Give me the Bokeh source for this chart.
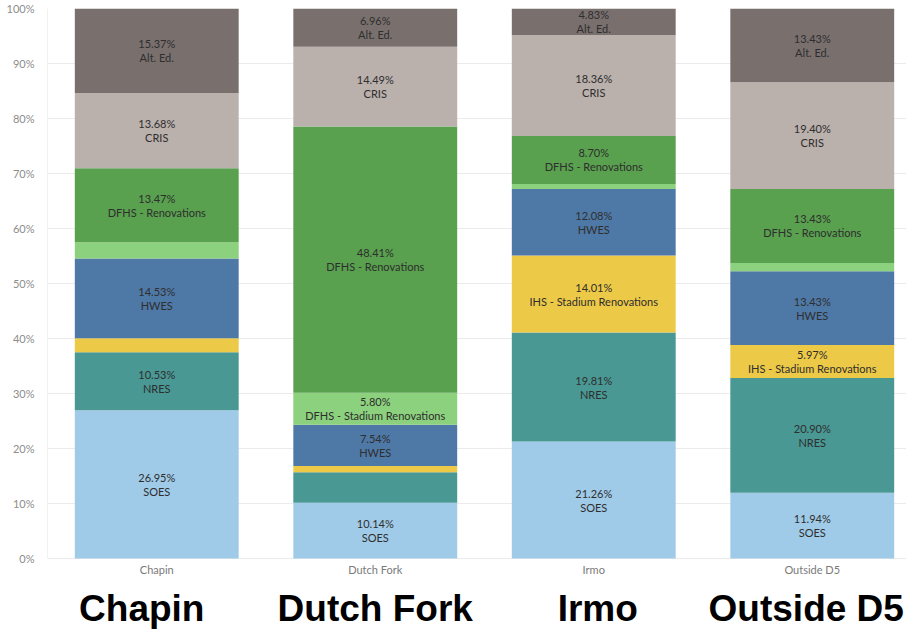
from bokeh.plotting import figure
from bokeh.models import ColumnDataSource, Range1d, FixedTicker, PrintfTickFormatter
from bokeh.core.properties import value
from bokeh.embed import file_html
from bokeh.resources import INLINE

# ---------------- data ----------------
categories = ["Chapin", "Dutch Fork", "Irmo", "Outside D5"]
series = ["SOES", "NRES", "IHS - Stadium Renovations", "HWES",
          "DFHS - Stadium Renovations", "DFHS - Renovations", "CRIS", "Alt. Ed."]
soes = [26.95, 10.14, 21.26, 11.94]
nres = [10.53, 5.53, 19.81, 20.90]
ihs_stadium = [2.55, 1.13, 14.01, 5.97]
hwes = [14.53, 7.54, 12.08, 13.43]
dfhs_stadium = [2.92, 5.80, 0.95, 1.50]
dfhs_renovations = [13.47, 48.41, 8.70, 13.43]
cris = [13.68, 14.49, 18.36, 19.40]
alt_ed = [15.37, 6.96, 4.83, 13.43]
y_ticks = [0, 10, 20, 30, 40, 50, 60, 70, 80, 90, 100]
# segments whose labels are not shown in the original
hidden_labels = [("Chapin", "IHS - Stadium Renovations"),
                 ("Chapin", "DFHS - Stadium Renovations"),
                 ("Dutch Fork", "NRES"),
                 ("Dutch Fork", "IHS - Stadium Renovations"),
                 ("Irmo", "DFHS - Stadium Renovations"),
                 ("Outside D5", "DFHS - Stadium Renovations")]

colors = ["#a0cbe8", "#499894", "#edc948", "#4e79a7",
          "#8cd17d", "#59a14f", "#bab0ac", "#79706e"]

values = [soes, nres, ihs_stadium, hwes, dfhs_stadium, dfhs_renovations, cris, alt_ed]
xs = list(range(len(categories)))

data = {"x": xs, "cat": categories}
for name, vals in zip(series, values):
    data[name] = vals
source = ColumnDataSource(data)

# ---------------- figure ----------------
W, H = 906, 630
LEFT = 47
TOP = 8
px_per_unit_x = 218.5
px_per_pct = 5.5
p = figure(width=W, height=H, output_backend="svg", toolbar_location=None,
           x_range=Range1d(-0.5, -0.5 + (W - LEFT) / px_per_unit_x),
           y_range=Range1d(100 - (H - TOP) / px_per_pct, 100),
           min_border_left=LEFT, min_border_right=0, min_border_top=TOP, min_border_bottom=0)
p.outline_line_color = None
p.background_fill_color = "white"
p.border_fill_color = "white"

p.vbar_stack(series, x="x", width=0.75, source=source, color=colors, line_color=None)

# grid
p.xgrid.visible = False
p.ygrid.ticker = FixedTicker(ticks=y_ticks)
p.ygrid.grid_line_color = "#ebebeb"
p.ygrid.grid_line_width = 1
p.ygrid.level = "underlay"

# y axis
p.xaxis.visible = False
yax = p.yaxis[0]
yax.ticker = FixedTicker(ticks=y_ticks)
yax.formatter = PrintfTickFormatter(format="%d%%")
yax.axis_line_color = None
yax.major_tick_line_color = None
yax.minor_tick_line_color = None
yax.major_label_text_font = "Lato"
yax.major_label_text_font_size = "11px"
yax.major_label_text_color = "#8c8c8c"
yax.major_label_standoff = 7

# faint left axis line from 0 to 100
p.segment(x0=[-0.5], y0=[y_ticks[0]], x1=[-0.5], y1=[y_ticks[-1]],
          line_color="#e3e3e3", line_width=1)

# segment labels
lx, ly, l1, l2 = [], [], [], []
for i, cat in enumerate(categories):
    base = 0.0
    for name, vals in zip(series, values):
        v = vals[i]
        if (cat, name) not in hidden_labels:
            lx.append(xs[i])
            ly.append(base + v / 2)
            l1.append(f"{v:.2f}%")
            l2.append(name)
        base += v
lsrc = ColumnDataSource(dict(x=lx, y=ly, t1=l1, t2=l2))
p.text(x="x", y="y", text="t1", source=lsrc, text_align="center", text_baseline="middle",
       text_font=value("Lato"), text_font_size="11px", text_color="#2e2e2e", y_offset=-7)
p.text(x="x", y="y", text="t2", source=lsrc, text_align="center", text_baseline="middle",
       text_font=value("Lato"), text_font_size="11px", text_color="#2e2e2e", y_offset=7)

# small category labels (axis-like)
csrc = ColumnDataSource(dict(x=xs, y=[-2.0] * len(xs), t=categories))
p.text(x="x", y="y", text="t", source=csrc, text_align="center", text_baseline="middle",
       text_font=value("Lato"), text_font_size="11px", text_color="#7a7a7a")

# big bold category labels
big_dx = [-15, 0, 4, -6]
bsrc = ColumnDataSource(dict(x=xs, y=[-9.0] * len(xs), t=categories, dx=big_dx))
p.text(x="x", y="y", text="t", source=bsrc, x_offset="dx", text_align="center",
       text_baseline="middle", text_font=value("Liberation Sans"),
       text_font_style="bold", text_font_size="37px", text_color="black")

open("out.html", "w").write(file_html(p, INLINE))
